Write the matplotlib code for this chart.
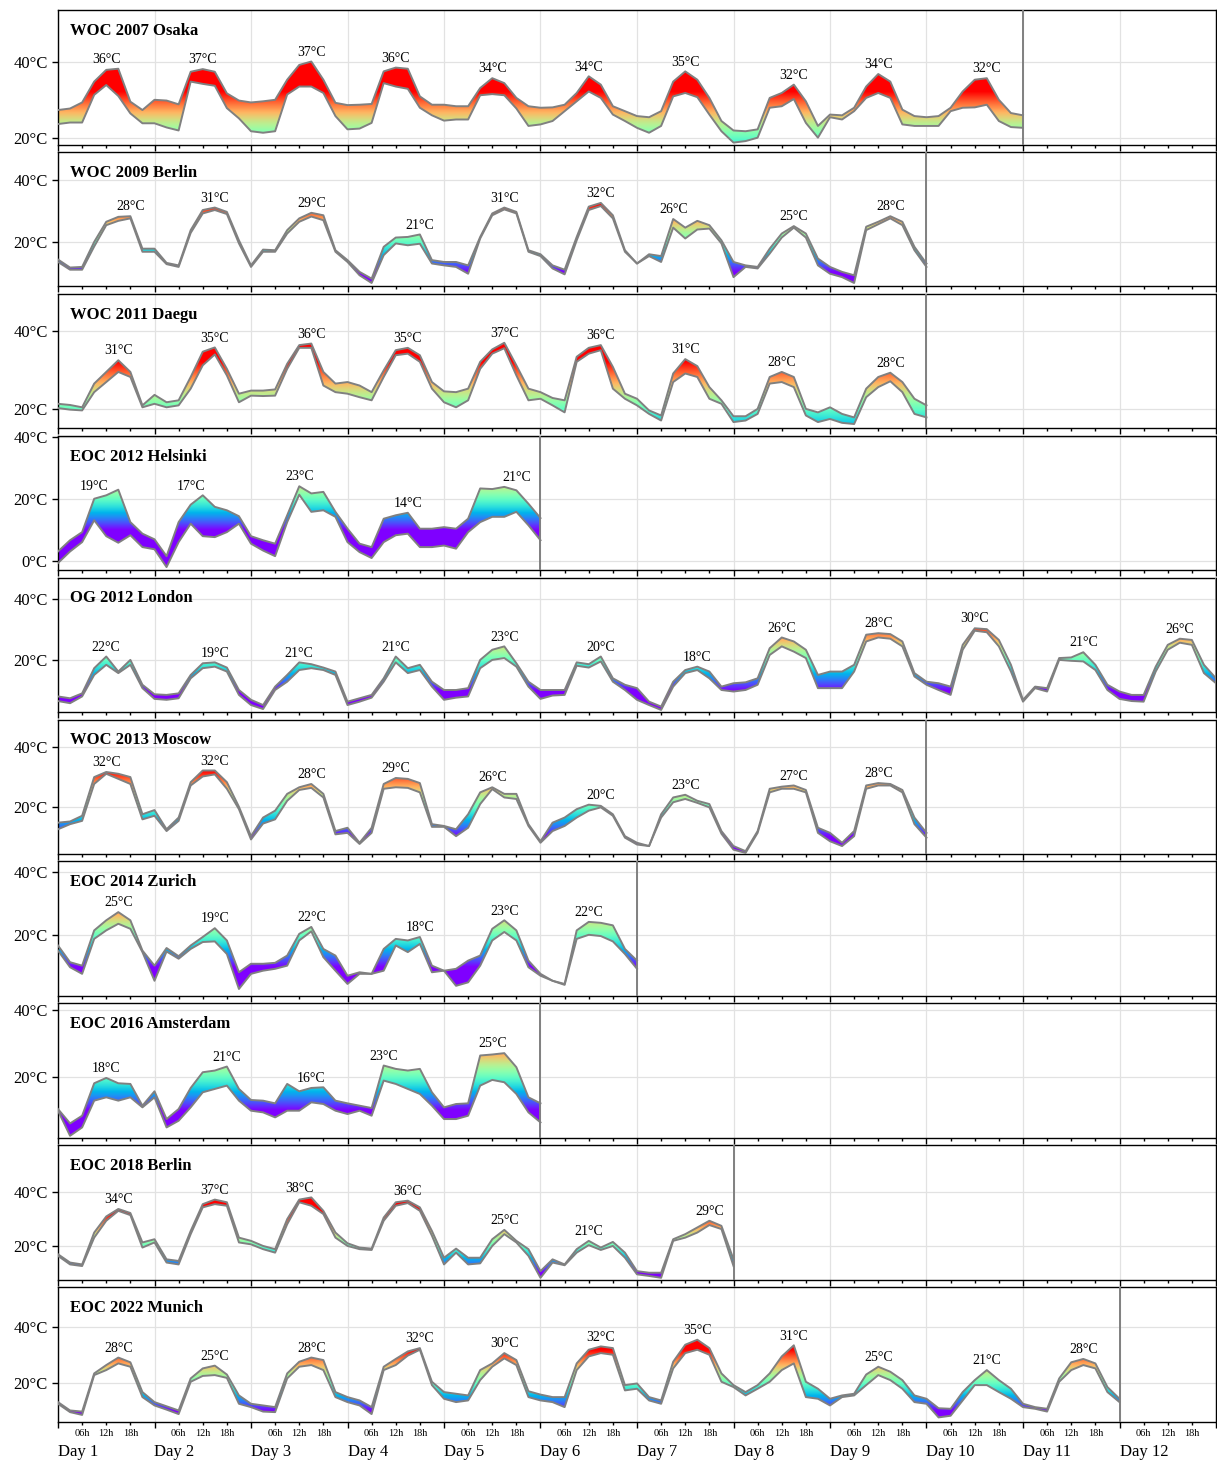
import matplotlib
matplotlib.use('Agg')
import matplotlib.pyplot as plt
import numpy as np
from matplotlib.colors import Normalize
from matplotlib.path import Path
from matplotlib.ticker import MultipleLocator, FuncFormatter

plt.rcParams['font.family'] = ['Liberation Serif', 'DejaVu Serif']

#### Events
events = ['WOC 2007 Osaka', 'WOC 2009 Berlin', 'WOC 2011 Daegu', 'EOC 2012 Helsinki',
          'OG 2012 London', 'WOC 2013 Moscow', 'EOC 2014 Zurich', 'EOC 2016 Amsterdam',
          'EOC 2018 Berlin', 'EOC 2022 Munich']

#### Temperatures every 3 hours (upper / lower envelope), one row per day
osaka_hi = [27.3, 27.7, 29.3, 34.8, 37.9, 38.2, 29.5, 27.3,
            30.0, 29.8, 28.8, 37.4, 38.1, 37.4, 31.7, 29.8,
            29.3, 29.6, 30.0, 35.3, 39.2, 40.1, 35.3, 29.2,
            28.6, 28.7, 28.9, 37.5, 38.5, 38.2, 30.9, 28.7,
            28.7, 28.3, 28.3, 33.1, 35.7, 34.4, 30.5, 28.3,
            27.9, 28.0, 28.7, 31.8, 36.2, 34.0, 28.3, 27.0,
            25.7, 25.4, 27.0, 34.8, 37.5, 35.3, 30.5, 24.4,
            21.9, 21.7, 22.2, 30.5, 31.8, 34.0, 29.6, 23.1,
            26.1, 25.9, 27.9, 33.5, 36.8, 34.8, 27.4, 25.7,
            25.4, 25.7, 27.9, 32.2, 35.3, 35.7, 30.0, 26.5, 25.9]
osaka_lo = [23.6, 24.0, 24.0, 31.3, 33.9, 31.0, 26.4, 23.8,
            23.8, 22.7, 21.9, 34.8, 34.2, 33.7, 27.8, 25.1,
            21.7, 21.3, 21.7, 31.4, 33.5, 33.5, 31.8, 25.7,
            22.2, 22.4, 23.9, 34.4, 33.5, 32.9, 27.9, 25.9,
            24.5, 24.8, 24.8, 31.2, 31.5, 31.2, 27.7, 23.1,
            23.5, 24.4, 27.0, 29.6, 32.2, 30.5, 26.1, 24.4,
            22.6, 21.3, 23.1, 30.9, 31.8, 30.7, 26.1, 21.7,
            18.7, 19.1, 20.0, 27.9, 28.3, 30.2, 23.9, 20.0,
            25.4, 24.8, 27.0, 30.5, 31.8, 30.5, 23.5, 23.1,
            23.1, 23.1, 27.0, 27.9, 28.0, 28.7, 24.4, 22.8, 22.6]
osaka_peak = [36, 37, 37, 36, 34, 34, 35, 32, 34, 32]

berlin09_hi = [14.3, 11.7, 11.9, 20.0, 26.5, 28.1, 28.3, 17.8,
               17.8, 13.2, 12.4, 23.8, 30.3, 31.1, 29.7, 20.5,
               12.4, 17.5, 17.3, 23.8, 27.6, 29.4, 28.6, 17.3,
               14.1, 10.3, 8.1, 18.4, 21.4, 21.6, 22.4, 14.1,
               13.5, 13.5, 12.4, 21.6, 29.2, 31.1, 29.7, 17.3,
               16.0, 12.4, 11.0, 21.6, 31.4, 32.6, 28.6, 17.3,
               13.0, 16.0, 15.4, 27.4, 24.6, 26.8, 25.4, 20.5,
               13.5, 12.4, 11.9, 17.8, 22.7, 25.1, 22.7, 14.6,
               11.9, 10.3, 9.2, 24.9, 26.5, 28.3, 26.5, 18.4, 13.0]
berlin09_lo = [13.5, 11.0, 11.0, 18.5, 25.4, 26.8, 27.6, 16.8,
               16.8, 12.8, 11.9, 22.9, 29.2, 30.3, 29.0, 19.5,
               11.9, 16.8, 16.8, 22.7, 26.5, 28.2, 27.0, 16.8,
               13.5, 9.2, 6.7, 15.7, 19.5, 18.9, 19.4, 13.0,
               12.4, 11.9, 9.7, 21.1, 28.6, 30.5, 29.2, 16.8,
               15.4, 11.4, 9.5, 20.5, 30.3, 31.6, 27.6, 16.8,
               13.0, 15.4, 13.5, 24.6, 21.1, 24.0, 24.3, 19.5,
               8.6, 11.9, 11.4, 16.2, 21.4, 24.6, 21.4, 12.4,
               9.7, 8.6, 6.7, 23.8, 25.7, 27.6, 25.4, 17.3, 11.9]
berlin09_peak = [28, 31, 29, 21, 31, 32, 26, 25, 28]

daegu_hi = [21.3, 21.0, 20.4, 26.5, 29.5, 32.5, 29.5, 20.9,
            23.6, 21.7, 22.2, 28.2, 34.7, 35.8, 30.3, 23.9,
            24.7, 24.7, 25.0, 31.6, 36.4, 36.8, 29.5, 26.5,
            26.9, 26.0, 24.3, 29.9, 35.1, 35.7, 33.8, 26.9,
            24.5, 24.3, 25.2, 32.1, 35.3, 37.0, 31.2, 25.2,
            24.3, 22.8, 22.2, 33.4, 35.7, 36.4, 30.8, 23.9,
            22.6, 19.6, 18.3, 29.1, 32.8, 31.0, 25.6, 22.2,
            18.1, 18.1, 20.0, 28.2, 29.5, 28.2, 20.0, 19.1,
            20.4, 18.7, 17.8, 25.2, 28.2, 29.3, 26.9, 22.6, 20.9]
daegu_lo = [20.2, 19.8, 19.6, 24.3, 26.9, 29.5, 28.2, 20.4,
            21.3, 20.4, 20.9, 25.2, 31.2, 34.0, 28.6, 21.7,
            23.4, 23.3, 23.4, 30.3, 35.7, 35.7, 26.0, 24.3,
            23.9, 23.0, 22.2, 28.2, 33.8, 34.2, 32.1, 25.2,
            21.7, 20.4, 22.2, 30.3, 34.2, 35.6, 28.6, 22.2,
            22.6, 20.9, 19.1, 32.1, 34.2, 35.1, 25.2, 22.6,
            20.9, 18.7, 17.0, 26.9, 29.1, 28.2, 22.6, 21.3,
            16.6, 17.0, 18.7, 26.5, 26.9, 25.6, 18.3, 16.6,
            17.4, 16.4, 16.1, 23.0, 25.6, 27.1, 24.3, 18.7, 17.8]
daegu_peak = [31, 35, 36, 35, 37, 36, 31, 28, 28]

helsinki_hi = [3.2, 6.8, 9.4, 20.1, 21.2, 23.0, 12.6, 8.9,
               7.1, 1.7, 12.6, 18.2, 21.2, 17.5, 16.4, 14.5,
               8.1, 6.8, 5.7, 14.8, 24.1, 21.8, 22.3, 15.9,
               10.5, 5.7, 4.6, 13.7, 14.8, 15.6, 10.5, 10.5,
               11.0, 10.5, 13.7, 23.4, 23.2, 23.9, 22.8, 18.5, 13.9]
helsinki_lo = [-0.5, 3.2, 6.2, 13.2, 8.1, 6.0, 8.4, 4.6,
               3.9, -1.8, 6.2, 12.1, 8.1, 7.8, 9.4, 12.1,
               5.7, 3.5, 1.7, 12.6, 21.4, 15.9, 16.4, 14.3,
               6.2, 3.0, 1.1, 6.2, 8.4, 8.9, 4.6, 4.6,
               5.1, 4.1, 9.4, 12.6, 14.3, 14.3, 15.9, 11.6, 6.8]
helsinki_peak = [19, 17, 23, 14, 21]

london_hi = [8.2, 7.6, 9.2, 17.4, 21.2, 16.3, 20.1, 12.0,
             8.9, 8.7, 9.2, 15.2, 19.0, 19.3, 17.6, 10.3,
             7.1, 5.4, 11.4, 15.2, 19.3, 18.7, 17.6, 16.3,
             6.5, 7.6, 8.7, 14.1, 21.2, 17.4, 18.5, 13.0,
             10.3, 10.3, 10.9, 20.1, 23.4, 24.5, 19.0, 13.0,
             10.3, 10.3, 10.3, 19.3, 18.7, 21.2, 14.1, 12.0,
             10.9, 6.5, 4.9, 13.0, 16.8, 17.9, 16.3, 11.4,
             12.5, 12.8, 14.1, 23.9, 27.4, 26.1, 23.4, 15.2,
             16.3, 16.3, 18.5, 28.3, 28.8, 28.5, 26.1, 15.8,
             13.0, 12.5, 11.4, 25.0, 30.4, 30.1, 26.6, 18.5,
             7.1, 11.4, 10.9, 20.7, 20.9, 22.6, 18.5, 12.0,
             9.8, 8.7, 8.7, 17.9, 25.0, 27.0, 26.6, 18.5, 14.1]
london_lo = [6.7, 6.0, 8.2, 15.2, 18.5, 15.8, 18.5, 10.9,
             7.4, 7.1, 7.6, 14.1, 17.4, 17.9, 16.3, 8.7,
             5.4, 4.1, 10.3, 13.0, 16.8, 17.4, 16.8, 15.2,
             5.4, 6.5, 7.8, 13.0, 19.3, 15.8, 16.8, 11.4,
             7.1, 7.8, 8.2, 17.4, 20.1, 20.7, 17.9, 11.4,
             7.4, 8.5, 8.7, 18.2, 17.6, 19.6, 13.0, 10.3,
             7.1, 5.4, 3.8, 11.4, 15.8, 16.8, 14.1, 10.3,
             9.8, 10.3, 12.0, 21.7, 24.5, 22.8, 20.7, 10.9,
             10.9, 10.9, 16.3, 26.1, 27.4, 27.0, 24.5, 14.7,
             12.0, 10.3, 8.7, 23.4, 29.6, 29.1, 24.5, 16.3,
             6.5, 10.9, 9.8, 20.1, 19.8, 19.6, 16.8, 10.3,
             7.4, 6.7, 6.5, 16.3, 23.4, 25.7, 25.0, 15.8, 12.5]
london_peak = [22, 19, 21, 21, 23, 20, 18, 26, 28, 30, 21, 26]

moscow_hi = [14.7, 15.1, 17.0, 29.9, 31.6, 31.0, 29.9, 17.5,
             18.9, 12.5, 16.4, 28.2, 32.1, 32.1, 28.2, 20.0,
             10.2, 16.4, 18.7, 24.3, 26.5, 27.6, 24.3, 11.9,
             13.0, 8.0, 13.0, 27.6, 29.6, 29.3, 27.9, 14.2,
             13.6, 12.5, 17.5, 24.8, 26.5, 24.3, 24.3, 14.2,
             8.5, 14.7, 16.4, 19.2, 20.7, 20.3, 17.5, 10.2,
             8.0, 6.9, 17.5, 23.1, 24.0, 22.0, 20.9, 11.9,
             6.9, 5.2, 11.9, 26.0, 26.7, 27.1, 25.6, 13.0,
             11.3, 8.0, 11.9, 27.1, 27.9, 27.6, 25.6, 16.4, 11.3]
moscow_lo = [12.5, 14.2, 15.3, 27.6, 31.0, 29.3, 27.6, 15.8,
             17.0, 11.9, 15.3, 27.1, 30.1, 30.8, 26.0, 19.2,
             9.1, 14.4, 15.8, 22.0, 25.6, 26.3, 23.1, 10.8,
             11.3, 7.6, 11.3, 26.0, 26.5, 26.3, 24.8, 13.3,
             13.3, 10.2, 13.0, 20.9, 25.9, 23.1, 22.6, 13.6,
             8.0, 11.9, 13.6, 16.4, 18.7, 19.8, 17.0, 9.7,
             7.4, 6.9, 16.4, 21.5, 22.6, 21.3, 19.8, 11.0,
             5.7, 4.6, 11.3, 24.8, 26.0, 26.0, 24.8, 11.3,
             8.5, 6.9, 10.2, 26.0, 27.1, 27.1, 24.8, 14.2, 9.7]
moscow_peak = [32, 32, 28, 29, 26, 20, 23, 27, 28]

zurich_hi = [16.8, 11.5, 10.4, 21.6, 24.8, 27.4, 24.8, 15.2,
             10.4, 16.0, 13.4, 16.8, 19.5, 22.3, 18.4, 8.3,
             11.0, 11.0, 11.3, 13.6, 20.5, 22.7, 15.7, 13.6,
             7.2, 8.3, 7.8, 15.7, 18.9, 18.4, 19.5, 10.4,
             8.8, 9.4, 12.0, 13.6, 22.1, 24.8, 21.6, 12.0,
             7.8, 5.6, 4.6, 21.6, 24.3, 24.0, 23.2, 15.7, 12.0]
zurich_lo = [15.2, 9.9, 7.8, 18.9, 21.6, 23.7, 22.1, 14.7,
             5.6, 14.9, 12.6, 15.7, 17.9, 18.1, 14.1, 3.0,
             7.8, 8.8, 9.4, 10.4, 18.4, 21.3, 13.1, 8.8,
             4.6, 7.8, 7.8, 8.8, 16.8, 14.7, 17.3, 8.3,
             8.8, 4.0, 5.1, 10.4, 18.4, 21.1, 18.4, 9.9,
             7.2, 5.6, 4.3, 18.9, 20.2, 19.8, 18.1, 14.1, 9.4]
zurich_peak = [25, 19, 22, 18, 23, 22]

amsterdam_hi = [10.3, 6.0, 8.3, 18.0, 19.6, 18.0, 17.8, 11.3,
                15.6, 7.3, 10.3, 16.6, 21.3, 21.8, 23.0, 16.3,
                13.0, 12.8, 12.0, 17.8, 15.6, 16.6, 16.8, 12.8,
                12.0, 11.3, 10.6, 23.3, 22.3, 21.8, 22.3, 15.3,
                10.8, 11.8, 12.0, 26.3, 26.6, 27.0, 22.8, 13.8, 12.0]
amsterdam_lo = [9.8, 2.3, 4.8, 12.8, 13.8, 12.8, 13.8, 10.8,
                13.8, 4.8, 6.8, 10.8, 15.3, 16.3, 17.3, 12.8,
                9.8, 9.3, 7.8, 9.8, 9.8, 12.3, 11.8, 9.8,
                8.8, 9.8, 8.3, 18.8, 17.8, 16.3, 14.8, 11.3,
                7.3, 7.3, 8.3, 17.3, 19.0, 18.3, 14.8, 9.3, 6.3]
amsterdam_peak = [18, 21, 16, 23, 25]

berlin18_hi = [16.9, 13.8, 13.1, 25.0, 31.0, 33.8, 32.3, 21.3,
               22.5, 15.0, 14.4, 25.6, 35.6, 37.3, 36.3, 23.1,
               21.9, 20.0, 18.8, 30.0, 37.3, 38.1, 33.1, 25.0,
               21.0, 19.4, 19.0, 30.6, 36.3, 36.9, 34.4, 25.6,
               15.6, 19.0, 15.6, 15.6, 22.5, 26.0, 21.9, 18.8,
               10.6, 15.0, 13.1, 18.8, 21.9, 19.4, 21.5, 17.5,
               10.6, 10.0, 10.0, 22.5, 24.4, 26.9, 29.4, 27.5, 15.0]
berlin18_lo = [16.3, 13.1, 12.5, 23.1, 29.4, 33.1, 31.5, 19.4,
               21.3, 13.8, 13.1, 24.4, 34.4, 35.6, 35.0, 21.3,
               20.6, 18.8, 17.5, 28.1, 36.3, 35.0, 31.9, 23.1,
               20.0, 18.8, 18.5, 29.4, 35.0, 36.0, 33.1, 23.8,
               13.1, 17.5, 13.1, 13.5, 20.0, 24.4, 21.3, 16.3,
               8.1, 13.8, 12.8, 17.5, 20.3, 18.5, 20.0, 15.6,
               9.4, 8.8, 8.1, 21.9, 23.1, 25.0, 27.8, 26.3, 12.5]
berlin18_peak = [34, 37, 38, 36, 25, 21, 29]

munich_hi = [13.1, 10.1, 9.7, 23.4, 26.4, 29.1, 27.4, 16.7,
             13.1, 11.6, 10.1, 21.6, 25.2, 26.2, 23.0, 15.5,
             12.5, 11.9, 11.3, 23.4, 27.6, 29.1, 28.2, 16.7,
             14.9, 13.7, 11.3, 25.8, 28.6, 31.3, 32.5, 20.4,
             16.7, 16.1, 15.5, 24.6, 27.0, 30.7, 28.2, 17.0,
             15.8, 14.9, 14.9, 27.0, 31.9, 33.1, 32.5, 19.2,
             19.8, 14.9, 13.7, 27.6, 33.7, 35.5, 32.5, 23.4,
             19.2, 16.7, 19.2, 23.4, 29.5, 33.5, 20.4, 17.9,
             14.3, 15.5, 16.1, 23.0, 25.8, 24.0, 21.0, 15.5,
             14.3, 10.9, 10.7, 16.7, 21.0, 24.6, 21.0, 17.9,
             12.5, 11.3, 10.7, 21.6, 27.4, 28.6, 27.0, 18.5, 14.3]
munich_lo = [12.5, 9.5, 8.5, 22.8, 24.6, 27.0, 25.8, 14.9,
             11.9, 10.4, 8.8, 20.4, 22.5, 22.8, 21.8, 12.5,
             11.3, 9.7, 9.5, 21.6, 25.8, 26.4, 24.6, 14.9,
             13.1, 11.9, 8.8, 24.6, 26.4, 29.8, 31.9, 19.2,
             14.3, 13.1, 13.7, 21.0, 25.8, 28.8, 26.4, 14.9,
             13.7, 13.1, 11.3, 24.6, 29.5, 30.7, 30.1, 17.3,
             17.9, 13.7, 12.5, 25.2, 30.7, 31.9, 30.1, 20.4,
             18.5, 15.5, 17.9, 20.4, 24.6, 27.0, 14.9, 14.3,
             11.9, 14.9, 15.5, 19.2, 22.8, 21.0, 17.9, 13.1,
             12.5, 7.6, 8.2, 13.7, 19.2, 19.2, 16.7, 14.3,
             11.3, 10.7, 9.7, 20.4, 24.6, 26.4, 25.2, 16.7, 13.1]
munich_peak = [28, 25, 28, 32, 30, 32, 35, 31, 25, 21, 28]

series = [(osaka_hi, osaka_lo, osaka_peak), (berlin09_hi, berlin09_lo, berlin09_peak),
          (daegu_hi, daegu_lo, daegu_peak), (helsinki_hi, helsinki_lo, helsinki_peak),
          (london_hi, london_lo, london_peak), (moscow_hi, moscow_lo, moscow_peak),
          (zurich_hi, zurich_lo, zurich_peak), (amsterdam_hi, amsterdam_lo, amsterdam_peak),
          (berlin18_hi, berlin18_lo, berlin18_peak), (munich_hi, munich_lo, munich_peak)]

#### Axis ranges
y_limits = [(18.2, 53.7), (5.6, 49.1), (15.0, 49.6), (-2.8, 40.3), (3.1, 46.9),
            (4.25, 49.1), (0.8, 43.5), (1.7, 41.9), (7.4, 57.6), (6.1, 54.4)]

STEP = 3          # hours between readings
N_DAYS = 12
cmap = plt.get_cmap('rainbow')
norm = Normalize(vmin=10, vmax=32)

W, H = 1217, 1461
fig = plt.figure(figsize=(W / 100, H / 100), dpi=100)

for i, (name, (hi, lo, peaks), ylim) in enumerate(zip(events, series, y_limits)):
    top = 10 + i * 141.9
    ax = fig.add_axes([58 / W, 1 - (top + 134.5) / H, 1158 / W, 134.5 / H])
    hi = np.array(hi)
    lo = np.array(lo)
    hours = np.arange(len(hi)) * STEP
    n_days = len(peaks)

    # colour gradient clipped to the band between the two curves
    verts = np.vstack([np.column_stack([hours, hi]),
                       np.column_stack([hours[::-1], lo[::-1]]),
                       [[hours[0], hi[0]]]])
    band = Path(verts, closed=True)
    grad = np.linspace(ylim[0], ylim[1], 400).reshape(-1, 1)
    im = ax.imshow(grad, extent=[0, hours[-1], ylim[0], ylim[1]], origin='lower',
                   aspect='auto', cmap=cmap, norm=norm, interpolation='bilinear', zorder=2)
    im.set_clip_path(band, ax.transData)

    ax.plot(hours, hi, color='#808080', lw=1.4, zorder=3)
    ax.plot(hours, lo, color='#808080', lw=1.4, zorder=3)
    ax.axvline(n_days * 24, color='#808080', lw=1.4, zorder=3)

    # daily maximum labels
    mid = (hi + lo) / 2
    per_day = 24 // STEP
    for d in range(n_days):
        k = d * per_day + int(np.argmax(mid[d * per_day:(d + 1) * per_day]))
        y = hi[max(k - 1, 0):k + 2].max()
        ax.annotate(f'{peaks[d]}°C', (hours[k], y), xytext=(0, 2),
                    textcoords='offset points', ha='center', va='bottom', fontsize=10, zorder=4)

    ax.text(0.0104, 0.845, name, transform=ax.transAxes, fontsize=12,
            fontweight='bold', va='center', zorder=5)

    ax.set_xlim(0, N_DAYS * 24)
    ax.set_ylim(*ylim)
    ax.set_xticks(np.arange(0, N_DAYS * 24 + 1, 24))
    ax.set_xticks([h for h in range(6, N_DAYS * 24, 6) if h % 24], minor=True)
    ax.yaxis.set_major_locator(MultipleLocator(20))
    ax.yaxis.set_major_formatter(FuncFormatter(lambda v, p: f'{int(round(v))}°C'))
    ax.grid(True, which='major', color='#e2e2e2', lw=0.9, zorder=0)
    ax.set_axisbelow(True)
    for s in ax.spines.values():
        s.set_linewidth(1.0)
    ax.tick_params(axis='x', which='major', length=4, width=1)
    ax.tick_params(axis='x', which='minor', length=2.5, width=1)
    ax.tick_params(axis='y', length=4, width=1, labelsize=12)

    if i == len(events) - 1:
        ax.set_xticklabels([f'Day {d + 1}' for d in range(N_DAYS)] + [''])
        for lab in ax.get_xticklabels():
            lab.set_ha('left')
        ax.set_xticklabels(['06h', '12h', '18h'] * N_DAYS, minor=True)
        ax.tick_params(axis='x', which='major', labelsize=12, pad=12)
        ax.tick_params(axis='x', which='minor', labelsize=7.5, pad=2.5)
    else:
        ax.tick_params(axis='x', which='both', labelbottom=False)

fig.savefig('out.png', dpi=100)
